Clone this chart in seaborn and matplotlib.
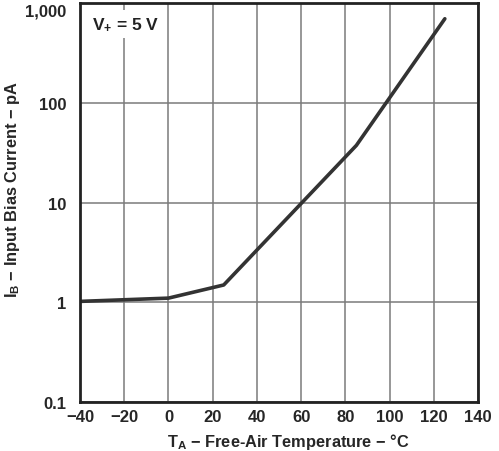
import numpy as np
import pandas as pd
import matplotlib
matplotlib.use("Agg")
import matplotlib.pyplot as plt
import seaborn as sns

# input bias current vs free-air temperature, V+ = 5 V
temp_c = [-40, 0, 25, 85, 125]
ib_pa = [1.02, 1.1, 1.49, 37.4, 695]

x_ticks = [-40, -20, 0, 20, 40, 60, 80, 100, 120, 140]
y_ticks = [0.1, 1, 10, 100, 1000]
y_tick_labels = ["0.1", "1", "10", "100", "1,000"]

df = pd.DataFrame({"temp": temp_c, "ib": ib_pa})

sns.set_style("white")
plt.rcParams["font.family"] = ["Liberation Sans", "DejaVu Sans"]
plt.rcParams["font.weight"] = "bold"
plt.rcParams["mathtext.default"] = "regular"

fig = plt.figure(figsize=(4.99, 4.52), dpi=100)
ax = fig.add_axes([80 / 499, 1 - 403 / 452, 398 / 499, 399 / 452])

sns.lineplot(data=df, x="temp", y="ib", ax=ax, color="#333333", linewidth=2.6)

ax.set_yscale("log")
ax.set_xlim(-40, 140)
ax.set_ylim(0.1, 1000)
ax.set_xticks(x_ticks)
ax.set_xticklabels([str(t).replace("-", "\u2212") for t in x_ticks])
ax.set_yticks(y_ticks)
ax.set_yticklabels(y_tick_labels)
ax.minorticks_off()
ax.tick_params(length=0, labelsize=12)
ax.tick_params(axis="y", pad=10)
ax.tick_params(axis="x", pad=5)
for lab in ax.get_xticklabels() + ax.get_yticklabels():
    lab.set_fontweight("bold")
# top label sits just under the frame like in the original
ax.get_yticklabels()[-1].set_va("top")

ax.grid(True, which="major", color="#7a7a7a", linewidth=1.1)
for s in ax.spines.values():
    s.set_color("#222222")
    s.set_linewidth(2)

ax.set_xlabel("T$_{A}$ \u2212 Free-Air Temperature \u2212 \u00b0C", fontsize=11.8,
              fontweight="bold")
ax.set_ylabel("I$_{B}$ \u2212 Input Bias Current \u2212 pA", fontsize=11.8,
              fontweight="bold")
ax.xaxis.set_label_coords(0.523, -0.072)
ax.yaxis.set_label_coords(-0.145, 0.534)

ax.text(-34.5, 615, "V$_{+}$ = 5 V", fontsize=12.5, fontweight="bold",
        va="center", ha="left", color="#222222",
        bbox=dict(facecolor="white", edgecolor="none", pad=4))

fig.savefig("out.png", dpi=100)
